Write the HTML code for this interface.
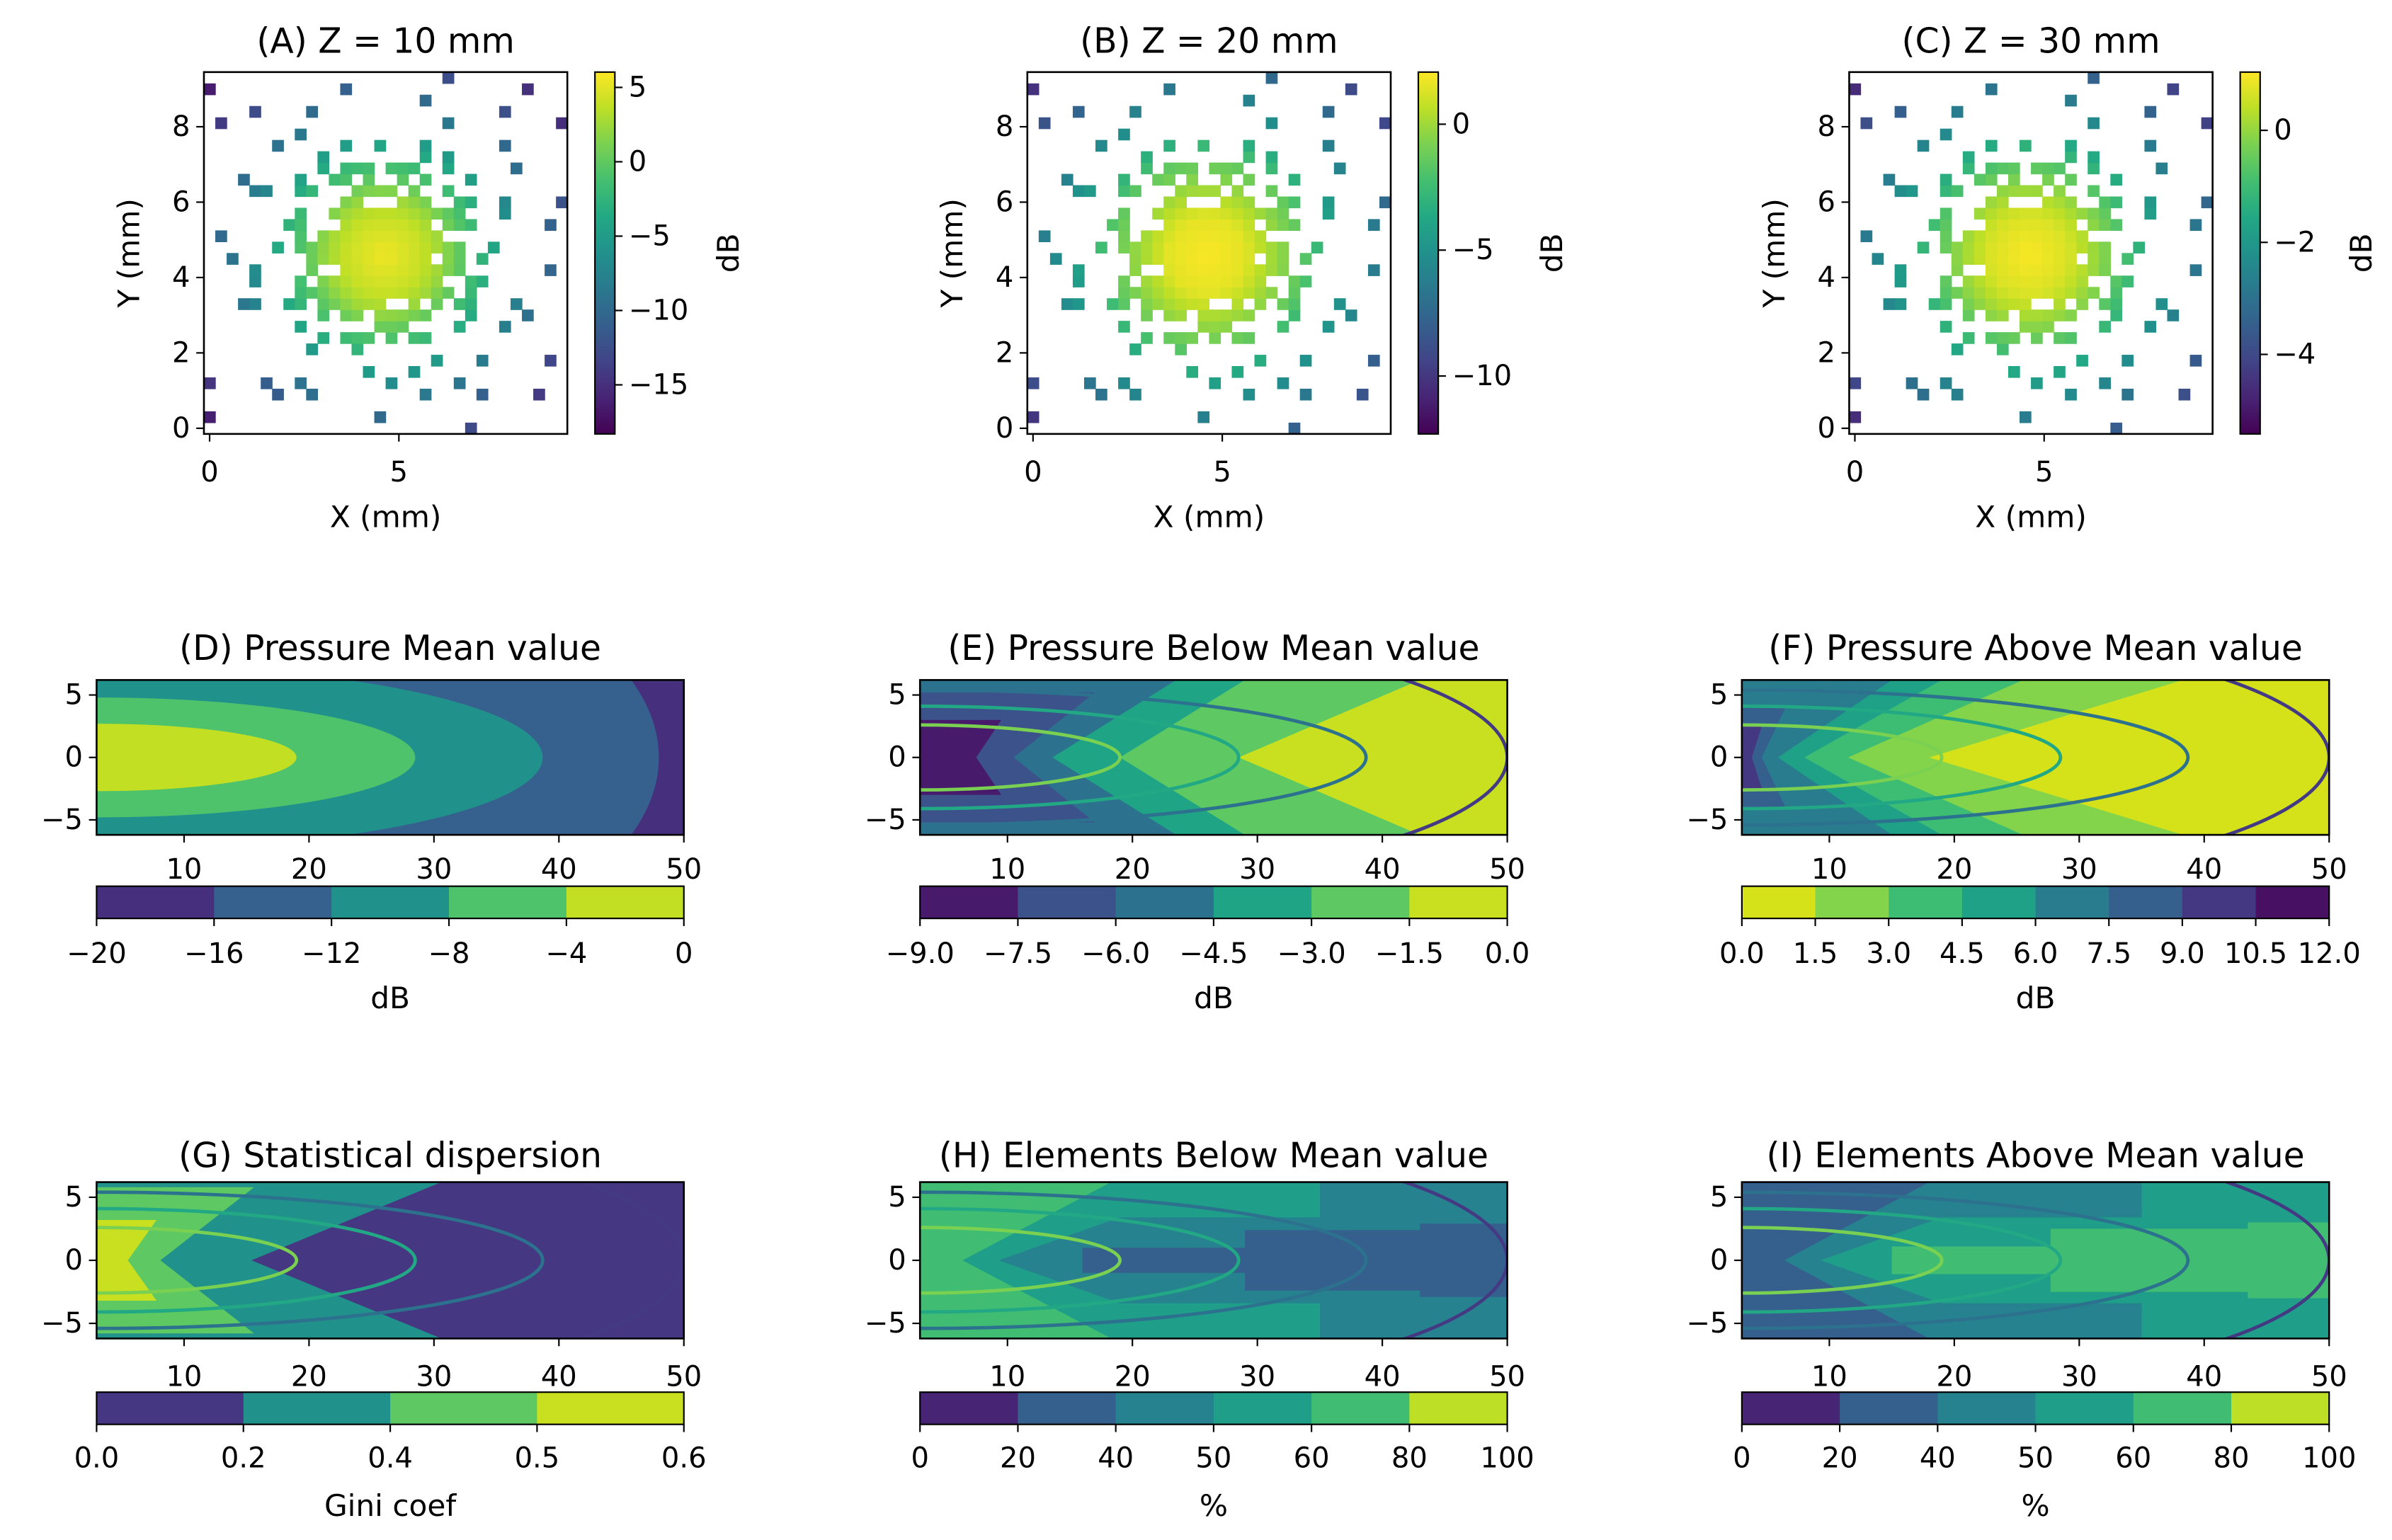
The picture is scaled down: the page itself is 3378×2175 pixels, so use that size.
<!DOCTYPE html>
<html><head><meta charset="utf-8"><style>
html,body{margin:0;padding:0;background:#fff;}
svg{display:block;font-family:"DejaVu Sans","Liberation Sans",sans-serif;}
</style></head><body>
<svg id="fig" width="3378" height="2175" viewBox="0 0 1560 1004.4" xmlns="http://www.w3.org/2000/svg"></svg>
<script>
// ---------- DATA ----------
const maskRows = [
 [23],[0,15],[],[6,9,19,24,29],[0,5,8,16,22],[14,18],[20,24,30],[9,13],
 [10,12,13,14,16,18,19],[8,15,16,17,22,26],[10,12,13,15,16,17,18,19,23,28],
 [3,4,7,8,10,11,12,13,14,15,18,20,22,23,27],
 [8,9,10,11,12,13,14,15,16,17,18,19,20,21,23],
 [4,8,10,11,12,13,14,15,16,17,18,19,20,23,24],
 [4,9,12,13,14,15,16,17,18,19,20,21,22,30],
 [2,9,10,11,12,13,14,15,16,17,18,19,21,22,24],
 [6,8,9,10,11,12,13,14,15,16,17,18,19,20,21,22,25],
 [1,8,10,11,12,13,14,15,16,17,18,19,20],
 [7,8,12,13,14,15,16,17,18,19,21,22,23,30],
 [8,11,12,13,14,15,16,17,18,19,20,21,22,26],
 [12,13,17,18,19,22,23,26,31],
 [4,5,8,9,13,14,15,16,18,21],
 [3,8,11,12,14,17,19,23],
 [10,12,13,14,16,17,18,21,27],
 [10,19,21],[6,12,15,19,26],[8],[1,21,31],[4,9,26],[19],[0,12,28],[21]
];
const radiusMm = [0,1,1.5,2,2.5,3,3.5,4,5,6,7];
const profileA = [5.5,4,2.5,0,-2,-4.5,-7,-9,-12.5,-15.5,-18];
const profileB = [2,1.5,0.5,-0.5,-1.5,-3,-4.5,-5.5,-7.5,-9.5,-11.5];
const profileC = [1,0.7,0.3,-0.2,-0.8,-1.4,-2,-2.5,-3.4,-4.3,-5.2];
const cbTicksA = [5,0,-5,-10,-15];
const cbTicksB = [0,-5,-10];
const cbTicksC = [0,-2,-4];
const heatXTicks = [0,5];
const heatYTicks = [0,2,4,6,8];

const zTicks = [10,20,30,40,50];
const yTicks = [5,0,-5];
const labelsD = ['−20','−16','−12','−8','−4','0'];
const labelsE = ['−9.0','−7.5','−6.0','−4.5','−3.0','−1.5','0.0'];
const labelsF = ['0.0','1.5','3.0','4.5','6.0','7.5','9.0','10.5','12.0'];
const labelsG = ['0.0','0.2','0.4','0.5','0.6'];
const labelsH = ['0','20','40','50','60','80','100'];
const paletteD = ['#46307e','#36608d','#21918c','#4ec36b','#c2df23'];
const paletteE = ['#481a6c','#3b528b','#2c728e','#20a486','#5ec962','#c8e020'];
const paletteF = ['#d5e21a','#84d44b','#3dbc74','#1fa188','#287c8e','#355f8d','#453882','#471063'];
const paletteG = ['#453781','#21918c','#5ec962','#c8e020'];
const paletteH = ['#482475','#355f8d','#26828e','#1f9e89','#40bd72','#bddf26'];
const bandsD = [[0,0,0],[1,45,20],[2,35.7,7.5],[3,25.5,4.8],[4,16,2.7]];
const bandsE = [[2,'B',0,0,0],[1,'L',10.5,17,5.2],[0,'L',7.5,9.5,3],[3,'R',13.6,23.5,6.2],[4,'R',19,29,6.2],[5,'R',28.5,43,6.2]];
const bandsF = [[4,'B',0,0,0],[5,'L',4.6,6.5,4],[6,'L',3.8,4.6,2.5],[3,'R',5.9,15,6.2],[2,'R',8,19,6.2],[1,'R',11.5,25.5,6.2],[0,'R',18,38.3,6.2]];
const bandsG = [[0,'B',0,0,0],[1,'L',15.4,30.6,6.2],[2,'L',8.1,15.6,5.8],[3,'L',5.5,7.8,3.2]];
const bandsH = [[3,'B',0,0,0],[2,'R',9.3,19,3.4],[2,'R',35,35,6.2],[1,'R',16,16,1],[1,'R',29,29,2.4],[1,'R',43,43,2.9],[4,'L',6.4,18.3,6.2]];
const bandsI = [[2,'B',0,0,0],[3,'R',9.3,19,3.4],[3,'R',35,35,6.2],[4,'R',15,15,1.1],[4,'R',27.7,27.7,2.5],[4,'R',43.5,43.5,3],[1,'L',6.4,18,6.2]];
const ringRx = [16,25.5,35.7,47];
const ringRy = [2.6,4.1,5.4,11];
const ringColors = ['#7ad151','#22a884','#2c728e','#443a83'];

// ---------- RENDER ----------
const NS='http://www.w3.org/2000/svg';
const svg=document.getElementById('fig');
const TITLE=22.5, TICK=18.5, LAB=19.5;
function mk(tag,attrs,parent){const e=document.createElementNS(NS,tag);for(const k in attrs)e.setAttribute(k,attrs[k]);(parent||svg).appendChild(e);return e;}
const vstops=[[0,'#440154'],[0.1,'#482475'],[0.2,'#414487'],[0.3,'#355f8d'],[0.4,'#2a788e'],[0.5,'#21918c'],[0.6,'#22a884'],[0.7,'#44bf70'],[0.8,'#7ad151'],[0.9,'#bddf26'],[1,'#fde725']];
function hex(h){return [1,3,5].map(i=>parseInt(h.substr(i,2),16));}
function viridis(t){t=Math.max(0,Math.min(1,t));for(let i=1;i<vstops.length;i++){if(t<=vstops[i][0]){const a=vstops[i-1],b=vstops[i];const f=(t-a[0])/(b[0]-a[0]);const ca=hex(a[1]),cb=hex(b[1]);return 'rgb('+ca.map((v,k)=>Math.round(v+(cb[k]-v)*f)).join(',')+')';}}return vstops[10][1];}
function interp(xs,ys,x){if(x<=xs[0])return ys[0];for(let i=1;i<xs.length;i++){if(x<=xs[i]){const f=(x-xs[i-1])/(xs[i]-xs[i-1]);return ys[i-1]+f*(ys[i]-ys[i-1]);}}return ys[ys.length-1];}
function txt(x,y,s,size,anchor,parent,rot){const t=mk('text',{x:x,y:y,'font-size':size,'text-anchor':anchor||'middle','dominant-baseline':'central',fill:'#000'},parent);if(rot)t.setAttribute('transform','rotate('+rot+' '+x+' '+y+')');t.textContent=s;return t;}
function fmt(v){return v<0?'−'+Math.abs(v):String(v);}

const heatPanels=[
 {key:'a',title:'(A) Z = 10 mm',L:133,cbL:388,prof:profileA,vmin:-18.3,vmax:6.03,ticks:cbTicksA,cbLab:475},
 {key:'b',title:'(B) Z = 20 mm',L:670,cbL:925,prof:profileB,vmin:-12.3,vmax:2.07,ticks:cbTicksB,cbLab:1012},
 {key:'c',title:'(C) Z = 30 mm',L:1206,cbL:1461,prof:profileC,vmin:-5.42,vmax:1.04,ticks:cbTicksC,cbLab:1540}
];
heatPanels.forEach(p=>{
  const g=mk('g',{});
  
  
  const T=47,B=283,W=237;
  const sx=v=>p.L+(v+0.15)/9.6*W, sy=v=>B-(v+0.15)/9.6*(B-T);
  const t=txt(p.L+W/2,27,p.title,TITLE,'middle',g);
  
  
  maskRows.forEach((cols,j)=>{cols.forEach(c=>{
    const xm=c*0.3,ym=j*0.3;const r=Math.hypot(xm-4.6,ym-4.6);
    const v=interp(radiusMm,p.prof,r);
    const cell=mk('rect',{x:sx(xm-0.15),y:sy(ym+0.15),width:sx(xm+0.15)-sx(xm-0.15)+0.3,height:sy(ym-0.15)-sy(ym+0.15)+0.3,fill:viridis((v-p.vmin)/(p.vmax-p.vmin))},g);
    
    
  });});
  const fr=mk('rect',{x:p.L,y:T,width:W,height:B-T,fill:'none',stroke:'#000','stroke-width':1.2},g);
  
  
  heatXTicks.forEach(v=>{mk('line',{x1:sx(v),x2:sx(v),y1:B,y2:B+5,stroke:'#000'},g);const l=txt(sx(v),308,String(v),TICK,'middle',g);});
  heatYTicks.forEach(v=>{mk('line',{x1:p.L-5,x2:p.L,y1:sy(v),y2:sy(v),stroke:'#000'},g);const l=txt(p.L-9,sy(v),String(v),TICK,'end',g);});
  const xl=txt(p.L+W/2,337,'X (mm)',LAB,'middle',g);
  
  
  const yl=txt(p.L-49,165,'Y (mm)',LAB,'middle',g,-90);
  
  
  const gid='grad'+p.key;const defs=mk('defs',{},g);const lg=mk('linearGradient',{id:gid,x1:0,y1:1,x2:0,y2:0},defs);
  vstops.forEach(s=>mk('stop',{offset:s[0],'stop-color':s[1]},lg));
  const cb=mk('rect',{x:p.cbL,y:T,width:13,height:B-T,fill:'url(#'+gid+')',stroke:'#000','stroke-width':1},g);
  
  
  const cy=v=>B-(v-p.vmin)/(p.vmax-p.vmin)*(B-T);
  p.ticks.forEach(v=>{mk('line',{x1:p.cbL+13,x2:p.cbL+18,y1:cy(v),y2:cy(v),stroke:'#000'},g);const l=txt(p.cbL+22,cy(v),fmt(v),TICK,'start',g);});
  const cl=txt(p.cbLab,165,'dB',LAB,'middle',g,-90);
  
  
});

const contourPanels=[
 {key:'d',title:'(D) Pressure Mean value',L:63,row:0,pal:paletteD,bands:bandsD,ell:true,labels:labelsD,unit:'dB',rings:false},
 {key:'e',title:'(E) Pressure Below Mean value',L:600,row:0,pal:paletteE,bands:bandsE,labels:labelsE,unit:'dB',rings:true},
 {key:'f',title:'(F) Pressure Above Mean value',L:1136,row:0,pal:paletteF,bands:bandsF,labels:labelsF,unit:'dB',rings:true},
 {key:'g',title:'(G) Statistical dispersion',L:63,row:1,pal:paletteG,bands:bandsG,labels:labelsG,unit:'Gini coef',rings:true},
 {key:'h',title:'(H) Elements Below Mean value',L:600,row:1,pal:paletteH,bands:bandsH,labels:labelsH,unit:'%',rings:true},
 {key:'i',title:'(I) Elements Above Mean value',L:1136,row:1,pal:paletteH,bands:bandsI,labels:labelsH,unit:'%',rings:true}
];
const rowGeo=[{T:443.5,B:544.5,title:423,tick:567,cbT:578,cbB:599,cbTick:622,cbLab:651},{T:771,B:873,title:754,tick:898,cbT:908,cbB:929,cbTick:951,cbLab:982}];
contourPanels.forEach(p=>{
  const r=rowGeo[p.row],W=383;
  const g=mk('g',{});
  
  
  const sx=z=>p.L+(z-3)/47*W, sy=y=>r.B-(y+6.2)/12.4*(r.B-r.T);
  const t=txt(p.L+W/2,r.title,p.title,TITLE,'middle',g);
  
  
  const defs=mk('defs',{},g);const cp=mk('clipPath',{id:'clip'+p.key},defs);
  mk('rect',{x:p.L,y:r.T,width:W,height:r.B-r.T},cp);
  const inner=mk('g',{'clip-path':'url(#clip'+p.key+')'},g);
  p.bands.forEach(b=>{
    let el;
    if(p.ell){
      if(b[1]===0){el=mk('rect',{x:p.L,y:r.T,width:W,height:r.B-r.T,fill:p.pal[b[0]]},inner);}
      else{el=mk('ellipse',{cx:sx(3),cy:sy(0),rx:sx(3+b[1])-sx(3),ry:sy(0)-sy(b[2]),fill:p.pal[b[0]]},inner);}
    }else{
      const [ci,side,tip,edge,h]=b;let pts;
      if(side==='B')pts=[[3,-6.3],[3,6.3],[50,6.3],[50,-6.3]];
      else if(side==='R')pts=[[tip,0],[edge,h],[50.5,h],[50.5,-h],[edge,-h]];
      else pts=[[2.5,h],[edge,h],[tip,0],[edge,-h],[2.5,-h]];
      el=mk('polygon',{points:pts.map(q=>sx(q[0]).toFixed(1)+','+sy(q[1]).toFixed(1)).join(' '),fill:p.pal[ci]},inner);
    }
    
    
  });
  if(p.rings){ringRx.forEach((rx,i)=>{
    const e=mk('ellipse',{cx:sx(3),cy:sy(0),rx:sx(3+rx)-sx(3),ry:sy(0)-sy(ringRy[i]),fill:'none',stroke:ringColors[i],'stroke-width':2.2},inner);
    
    
  });}
  const fr=mk('rect',{x:p.L,y:r.T,width:W,height:r.B-r.T,fill:'none',stroke:'#000','stroke-width':1.2},g);
  
  
  zTicks.forEach(v=>{mk('line',{x1:sx(v),x2:sx(v),y1:r.B,y2:r.B+5,stroke:'#000'},g);const l=txt(sx(v),r.tick,String(v),TICK,'middle',g);});
  yTicks.forEach(v=>{mk('line',{x1:p.L-5,x2:p.L,y1:sy(v),y2:sy(v),stroke:'#000'},g);const l=txt(p.L-9,sy(v),fmt(v),TICK,'end',g);});
  const n=p.labels.length-1;const seg=W/n;
  for(let k=0;k<n;k++){const c=mk('rect',{x:p.L+k*seg,y:r.cbT,width:seg+0.3,height:r.cbB-r.cbT,fill:p.pal[k]},g);}
  const cf=mk('rect',{x:p.L,y:r.cbT,width:W,height:r.cbB-r.cbT,fill:'none',stroke:'#000','stroke-width':1},g);
  
  
  p.labels.forEach((s,k)=>{const x=p.L+k*seg;mk('line',{x1:x,x2:x,y1:r.cbB,y2:r.cbB+5,stroke:'#000'},g);const l=txt(x,r.cbTick,s,TICK,'middle',g);});
  const ul=txt(p.L+W/2,r.cbLab,p.unit,LAB,'middle',g);
  
  
});
</script>
</body></html>
